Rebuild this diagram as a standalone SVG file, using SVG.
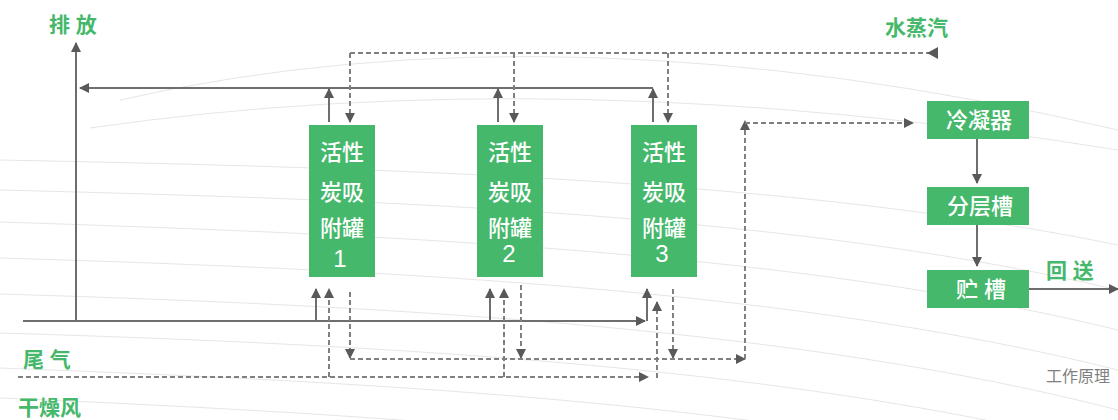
<svg xmlns="http://www.w3.org/2000/svg" width="1118" height="420" viewBox="0 0 1118 420">
<style>
.bg{fill:none;stroke:#e6e6e6;stroke-width:1}
.box{fill:#45b86b}
.wt{fill:#fff;font-family:"Liberation Sans","Noto Sans CJK SC",sans-serif;font-size:22px;font-weight:500;text-anchor:middle}
.dg{font-size:24px;font-weight:normal}
.gt{fill:#45b86b;font-family:"Liberation Sans","Noto Sans CJK SC",sans-serif;font-size:21px;font-weight:bold}
.solid{fill:none;stroke:#6e6e6e;stroke-width:2}
.dash{fill:none;stroke:#808080;stroke-width:2;stroke-dasharray:5 3}
.arr{marker-end:url(#ah)}
</style>
<defs>
<marker id="ah" viewBox="0 0 10 10" refX="9" refY="5" markerWidth="10" markerHeight="10" markerUnits="userSpaceOnUse" orient="auto">
<path d="M0,0 L10,5 L0,10 z" fill="#595959"/>
</marker>
</defs>
<rect width="1118" height="420" fill="#fff"/>
<g id="background">
<path class="bg" d="M120,100 Q560,0 1118,130"/>
<path class="bg" d="M90,128 Q560,60 1118,150"/>
<path class="bg" d="M0,160 C400,168 800,180 1118,245"/>
<path class="bg" d="M0,190 C400,200 800,215 1118,290"/>
<path class="bg" d="M0,222 C400,235 800,252 1118,330"/>
<path class="bg" d="M0,258 C400,270 800,290 1118,370"/>
<path class="bg" d="M0,294 C400,306 800,328 1118,410"/>
<path class="bg" d="M0,333 C400,345 800,368 1118,450"/>
<path class="bg" d="M0,368 C400,383 800,405 1118,490"/>
<path class="bg" d="M0,398 C400,415 800,440 1118,530"/>
</g>
<g id="connectors">
<path class="solid arr" d="M76,321 V43"/>
<path class="solid arr" d="M653,88 H80"/>
<path class="solid arr" d="M329,122 V89"/>
<path class="solid arr" d="M498,122 V89"/>
<path class="solid arr" d="M653,122 V89"/>
<path class="dash" d="M350,53 H937"/>
<polygon points="927,53 938,47 938,59" fill="#595959"/>
<path class="dash arr" d="M350,53 V122"/>
<path class="dash arr" d="M514,53 V122"/>
<path class="dash arr" d="M668,53 V122"/>
<path class="solid arr" d="M23,321 H645"/>
<path class="solid arr" d="M316,321 V289"/>
<path class="solid arr" d="M490,321 V289"/>
<path class="solid arr" d="M647,321 V289"/>
<path class="dash arr" d="M18,377 H648"/>
<path class="dash arr" d="M329,377 V289"/>
<path class="dash arr" d="M504,377 V289"/>
<path class="dash arr" d="M657,378 V302"/>
<path class="dash arr" d="M350,292 V358"/>
<path class="dash arr" d="M521,285 V358"/>
<path class="dash arr" d="M673,289 V358"/>
<path class="dash arr" d="M350,359 H745"/>
<path class="dash arr" d="M745,359 V121"/>
<path class="dash arr" d="M745,123 H913"/>
<path class="solid arr" d="M977,139 V183"/>
<path class="solid arr" d="M977,225 V266"/>
<path class="solid arr" d="M1029,289 H1118"/>
</g>
<g id="tank1">
<rect class="box" x="309" y="125" width="66" height="152"/>
<text class="wt" x="342" y="160">活性</text>
<text class="wt" x="342" y="200">炭吸</text>
<text class="wt" x="342" y="236">附罐</text>
<text class="wt dg" x="340" y="267">1</text>
</g>
<g id="tank2">
<rect class="box" x="477" y="125" width="66" height="152"/>
<text class="wt" x="510" y="160">活性</text>
<text class="wt" x="510" y="200">炭吸</text>
<text class="wt" x="510" y="236">附罐</text>
<text class="wt dg" x="509" y="262">2</text>
</g>
<g id="tank3">
<rect class="box" x="631" y="125" width="66" height="152"/>
<text class="wt" x="664" y="160">活性</text>
<text class="wt" x="664" y="200">炭吸</text>
<text class="wt" x="664" y="236">附罐</text>
<text class="wt dg" x="662" y="262">3</text>
</g>
<g id="condenser">
<rect class="box" x="927" y="101" width="102" height="38"/>
<text class="wt" x="979" y="128">冷凝器</text>
</g>
<g id="separator">
<rect class="box" x="927" y="187" width="102" height="38"/>
<text class="wt" x="980" y="214">分层槽</text>
</g>
<g id="storage">
<rect class="box" x="927" y="270" width="102" height="38"/>
<text class="wt" x="981" y="297">贮 槽</text>
</g>
<g id="labels">
<text class="gt" x="49" y="32">排 放</text>
<text class="gt" x="885" y="35">水蒸汽</text>
<text class="gt" x="23" y="367" font-size="20">尾 气</text>
<text class="gt" x="18" y="415">干燥风</text>
<text class="gt" x="1046" y="278" font-size="19">回 送</text>
<text x="1046" y="382" fill="#7f7f7f" font-family="Liberation Sans,Noto Sans CJK SC,sans-serif" font-size="16">工作原理</text>
</g>
</svg>
